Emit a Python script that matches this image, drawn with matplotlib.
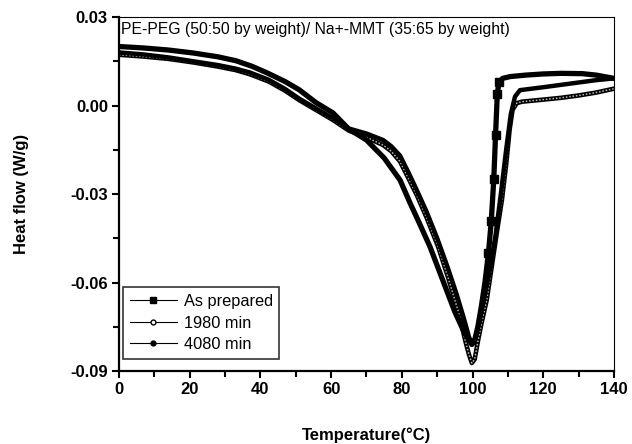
import numpy as np
import matplotlib
matplotlib.use("Agg")
import matplotlib.pyplot as plt
from matplotlib.lines import Line2D
from matplotlib.ticker import MultipleLocator

plt.rcParams['font.family'] = ['Liberation Sans', 'DejaVu Sans']

# ---- data ----
t_asprep = [0, 7, 14, 21, 28, 33, 37.6, 42, 47, 51, 55.7, 60.5, 65, 70, 75, 79.5,
            82.3, 85, 88, 91.5, 95, 97, 98.5, 99.8, 100.5, 101.5, 102.5, 103.5,
            104.5, 105.3, 106, 106.5, 107, 107.5, 108.5, 110.6, 115, 120, 125,
            131, 135, 140]
v_asprep = [0.0200, 0.0195, 0.0188, 0.0178, 0.0165, 0.0152, 0.0133, 0.0110, 0.0081,
            0.0053, 0.0010, -0.0025, -0.0080, -0.0117, -0.0178, -0.0253, -0.0330,
            -0.0400, -0.0480, -0.0590, -0.0700, -0.0752, -0.0785, -0.0810, -0.0800,
            -0.0750, -0.0680, -0.0600, -0.0500, -0.0390, -0.0250, -0.0100, 0.0040,
            0.0080, 0.0092, 0.0098, 0.0103, 0.0107, 0.0109, 0.0108, 0.0103, 0.0092]

t_1980 = [0, 7, 14, 21, 28, 33, 37, 42.4, 47, 51, 55.7, 60.5, 65, 70, 74.7, 77,
          79.5, 82, 84.2, 87, 90.3, 93, 96, 98, 99, 99.8, 100.6, 101.5, 102.5,
          104, 105.5, 107, 108.3, 109.5, 110.5, 111.3, 112.5, 114, 120, 125, 130,
          135, 140]
v_1980 = [0.0172, 0.0166, 0.0158, 0.0146, 0.0132, 0.0120, 0.0106, 0.0081, 0.0050,
          0.0018, -0.0015, -0.0049, -0.0085, -0.0108, -0.0134, -0.0155, -0.0190,
          -0.0250, -0.0303, -0.0380, -0.0480, -0.0580, -0.0700, -0.0800, -0.0845,
          -0.0873, -0.0860, -0.0800, -0.0740, -0.0660, -0.0540, -0.0420, -0.0320,
          -0.0200, -0.0080, -0.0015, 0.0008, 0.0013, 0.0020, 0.0026, 0.0034,
          0.0044, 0.0057]

t_4080 = [0, 7, 14, 21, 28, 33, 37, 42.4, 47, 51, 55.7, 60.5, 65, 70, 74.7, 77,
          79.5, 82, 84.2, 87, 90, 93, 95.5, 97.5, 99, 99.8, 100.8, 102, 103.5,
          105, 106.5, 108, 109.5, 110.8, 112, 113.4, 120, 125, 130, 135, 140]
v_4080 = [0.0180, 0.0173, 0.0163, 0.0150, 0.0137, 0.0125, 0.0112, 0.0087, 0.0056,
          0.0023, -0.0010, -0.0043, -0.0078, -0.0095, -0.0117, -0.0138, -0.0170,
          -0.0230, -0.0286, -0.0360, -0.0450, -0.0550, -0.0640, -0.0720, -0.0785,
          -0.0805, -0.0790, -0.0730, -0.0640, -0.0550, -0.0440, -0.0300, -0.0150,
          -0.0030, 0.0030, 0.0052, 0.0062, 0.0070, 0.0078, 0.0086, 0.0092]

labels = ["As prepared", "1980 min", "4080 min"]
annotation = "PE-PEG (50:50 by weight)/ Na+-MMT (35:65 by weight)"
xticks = [0, 20, 40, 60, 80, 100, 120, 140]
yticks = [-0.09, -0.06, -0.03, 0.00, 0.03]
ytick_labels = ["-0.09", "-0.06", "-0.03", "0.00", "0.03"]

# ---- figure ----
fig = plt.figure(figsize=(6.32, 4.44), dpi=100)
ax = fig.add_axes([0.1883, 0.1644, 0.9715 - 0.1883, 0.9617 - 0.1644])

# 1980 min (dense open circles -> greyish band)
ax.plot(t_1980, v_1980, color='k', lw=3.3, solid_capstyle='round',
        solid_joinstyle='round', zorder=2)
ax.plot(t_1980, v_1980, color='#b8b8b8', lw=1.1, ls=(0, (1, 1.2)), zorder=2.1)
# 4080 min
ax.plot(t_4080, v_4080, color='k', lw=3.2, solid_capstyle='round',
        solid_joinstyle='round', zorder=3)
# As prepared (squares visible only where the signal jumps quickly)
rise = [i for i, t in enumerate(t_asprep) if 104 <= t <= 107.6]
ax.plot(t_asprep, v_asprep, color='k', lw=3.8, solid_capstyle='round',
        solid_joinstyle='round', zorder=4)
ax.plot(t_asprep, v_asprep, color='k', lw=0, marker='s', ms=5.5,
        markevery=rise, zorder=4.1)

ax.set_xlim(0, 140)
ax.set_ylim(-0.09, 0.03)
ax.set_xticks(xticks)
ax.set_yticks(yticks)
ax.set_yticklabels(ytick_labels)
ax.xaxis.set_minor_locator(MultipleLocator(10))
ax.yaxis.set_minor_locator(MultipleLocator(0.015))

for lab in ax.get_xticklabels() + ax.get_yticklabels():
    lab.set_fontweight('bold')
    lab.set_fontsize(12)

ax.tick_params(which='both', direction='out', width=1.5, top=False, right=False)
ax.tick_params(which='major', length=5, pad=3)
ax.tick_params(which='minor', length=4.5)

ax.spines['left'].set_linewidth(1.6)
ax.spines['bottom'].set_linewidth(1.6)
ax.spines['top'].set_linewidth(0.8)
ax.spines['right'].set_linewidth(0.8)

ax.set_xlabel("Temperature(°C)", fontsize=12, fontweight='bold', labelpad=22)
ax.set_ylabel("Heat flow (W/g)", fontsize=12, fontweight='bold', labelpad=30)

ax.text(0.004, 0.985, annotation, transform=ax.transAxes, fontsize=11.3,
        ha='left', va='top')

handles = [
    Line2D([], [], color='k', lw=0.8, marker='s', ms=5),
    Line2D([], [], color='k', lw=0.8, marker='o', ms=3.5, mfc='white'),
    Line2D([], [], color='k', lw=0.8, marker='o', ms=3.5),
]
leg = ax.legend(handles, labels, loc='lower left', bbox_to_anchor=(0.008, 0.035),
                fontsize=11.8, frameon=True, fancybox=False, edgecolor='k',
                handlelength=2.9, handletextpad=0.4, borderpad=0.4,
                labelspacing=0.4, borderaxespad=0)
leg.get_frame().set_linewidth(1.2)

fig.savefig("out.png", dpi=100)
